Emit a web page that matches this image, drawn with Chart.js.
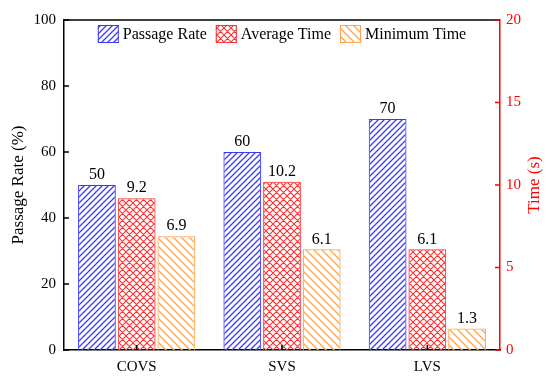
<!DOCTYPE html>
<html>
<head>
<meta charset="utf-8">
<script src="https://cdn.jsdelivr.net/npm/chart.js@4"></script>
<style>
  body { margin: 0; background: #fff; }
  #wrap { width: 550px; height: 378px; position: relative; }
</style>
</head>
<body>
<div id="wrap"><canvas id="grafica"></canvas></div>
<script>
const categorias = ['COVS', 'SVS', 'LVS'];
const tasaPaso = [50, 60, 70];
const tiempoMedio = [9.2, 10.2, 6.1];
const tiempoMinimo = [6.9, 6.1, 1.3];
const ticksIzq = [0, 20, 40, 60, 80, 100];
const ticksDer = [0, 5, 10, 15, 20];

const FUENTE = '"Liberation Serif", "Times New Roman", serif';
const AZUL = '#3a3aff';
const ROJO = '#ff3030';
const NARANJA = '#ffa24a';

// tramas rayadas
function crearTrama(color, tam, tipo, grosor) {
    const c = document.createElement('canvas');
    c.width = tam;
    c.height = tam;
    const ctx = c.getContext('2d');
    ctx.strokeStyle = color;
    ctx.lineWidth = grosor;
    ctx.lineCap = 'square';
    ctx.beginPath();
    for (let k = -1; k <= 1; k++) {
        const d = k * tam;
        if (tipo === 'sube' || tipo === 'cruz') {
            ctx.moveTo(d, tam);
            ctx.lineTo(d + tam, 0);
        }
        if (tipo === 'baja' || tipo === 'cruz') {
            ctx.moveTo(d, 0);
            ctx.lineTo(d + tam, tam);
        }
    }
    ctx.stroke();
    return ctx.createPattern(c, 'repeat');
}

const tramaAzul = crearTrama(AZUL, 6, 'sube', 1.3);
const tramaRoja = crearTrama(ROJO, 7, 'cruz', 1.1);
const tramaNaranja = crearTrama(NARANJA, 8, 'baja', 1.3);

const marcoYTicks = {
    id: 'marcoYTicks',
    afterDraw(chart) {
        const ctx = chart.ctx;
        const a = chart.chartArea;
        ctx.save();
        ctx.lineWidth = 1.5;
        ctx.strokeStyle = '#000';
        ctx.beginPath();
        ctx.moveTo(a.left, a.top);
        ctx.lineTo(a.right, a.top);
        ctx.stroke();

        const largo = 5;
        const sx = chart.scales.x;
        ctx.beginPath();
        sx.ticks.forEach((t, i) => {
            const px = sx.getPixelForTick(i);
            ctx.moveTo(px, a.bottom);
            ctx.lineTo(px, a.bottom - largo);
        });
        const sy = chart.scales.y;
        ticksIzq.forEach(v => {
            const py = sy.getPixelForValue(v);
            ctx.moveTo(a.left, py);
            ctx.lineTo(a.left + largo, py);
        });
        ctx.stroke();

        const sy1 = chart.scales.y1;
        ctx.strokeStyle = 'red';
        ctx.beginPath();
        ticksDer.forEach(v => {
            const py = sy1.getPixelForValue(v);
            ctx.moveTo(a.right, py);
            ctx.lineTo(a.right - largo, py);
        });
        ctx.stroke();

        // titulos de ejes, ambos leen de abajo hacia arriba
        const yMedio = (a.top + a.bottom) / 2;
        ctx.font = '17px ' + FUENTE;
        ctx.textAlign = 'center';
        ctx.textBaseline = 'middle';
        ctx.save();
        ctx.translate(19, yMedio);
        ctx.rotate(-Math.PI / 2);
        ctx.fillStyle = '#000';
        ctx.fillText('Passage Rate (%)', 0, 0);
        ctx.restore();
        ctx.save();
        ctx.translate(535, yMedio);
        ctx.rotate(-Math.PI / 2);
        ctx.fillStyle = 'red';
        ctx.fillText('Time (s)', 0, 0);
        ctx.restore();

        // etiquetas de valores
        ctx.fillStyle = '#000';
        ctx.font = '16px ' + FUENTE;
        ctx.textAlign = 'center';
        ctx.textBaseline = 'bottom';
        chart.data.datasets.forEach((ds, i) => {
            chart.getDatasetMeta(i).data.forEach((bar, j) => {
                ctx.fillText(String(ds.data[j]), bar.x, bar.y - 2);
            });
        });

        // leyenda dentro del area
        ctx.font = '16px ' + FUENTE;
        ctx.textAlign = 'left';
        ctx.textBaseline = 'middle';
        const anchoCaja = 21, altoCaja = 18, hueco = 4, sep = 9;
        const items = chart.data.datasets;
        let total = 0;
        items.forEach((ds, i) => {
            total += anchoCaja + hueco + ctx.measureText(ds.label).width;
            if (i < items.length - 1) total += sep;
        });
        let x = (a.left + a.right) / 2 - total / 2;
        const yc = a.top + 14;
        items.forEach(ds => {
            ctx.fillStyle = ds.backgroundColor;
            ctx.fillRect(x, yc - altoCaja / 2, anchoCaja, altoCaja);
            ctx.strokeStyle = ds.borderColor;
            ctx.lineWidth = 1;
            ctx.strokeRect(x + 0.5, yc - altoCaja / 2 + 0.5, anchoCaja - 1, altoCaja - 1);
            x += anchoCaja + hueco;
            ctx.fillStyle = '#000';
            ctx.fillText(ds.label, x, yc + 1);
            x += ctx.measureText(ds.label).width + sep;
        });
        ctx.restore();
    }
};

new Chart(document.getElementById('grafica'), {
    type: 'bar',
    data: {
        labels: categorias,
        datasets: [
            { label: 'Passage Rate', data: tasaPaso, yAxisID: 'y',
              backgroundColor: tramaAzul, borderColor: AZUL, borderWidth: 1 },
            { label: 'Average Time', data: tiempoMedio, yAxisID: 'y1',
              backgroundColor: tramaRoja, borderColor: ROJO, borderWidth: 1 },
            { label: 'Minimum Time', data: tiempoMinimo, yAxisID: 'y1',
              backgroundColor: tramaNaranja, borderColor: NARANJA, borderWidth: 1 }
        ]
    },
    options: {
        responsive: true,
        maintainAspectRatio: false,
        animation: false,
        categoryPercentage: 0.82,
        barPercentage: 0.95,
        layout: { padding: { top: 20, left: 0, right: 0, bottom: 0 } },
        plugins: {
            legend: { display: false },
            tooltip: { enabled: false }
        },
        scales: {
            x: {
                grid: { display: false, drawTicks: false },
                border: { display: true, color: '#000', width: 1.5 },
                ticks: { color: '#000', font: { family: FUENTE, size: 15 }, padding: 8 },
                afterFit(s) { s.height = 28; }
            },
            y: {
                position: 'left',
                min: 0,
                max: 100,
                afterBuildTicks(s) { s.ticks = ticksIzq.map(v => ({ value: v })); },
                grid: { display: false, drawTicks: false },
                border: { display: true, color: '#000', width: 1.5 },
                ticks: { color: '#000', font: { family: FUENTE, size: 15 }, padding: 8 },
                afterFit(s) { s.width = 64; }
            },
            y1: {
                position: 'right',
                min: 0,
                max: 20,
                afterBuildTicks(s) { s.ticks = ticksDer.map(v => ({ value: v })); },
                grid: { display: false, drawTicks: false },
                border: { display: true, color: 'red', width: 1.5 },
                ticks: { color: 'red', font: { family: FUENTE, size: 15 }, padding: 6 },
                afterFit(s) { s.width = 50; }
            }
        }
    },
    plugins: [marcoYTicks]
});
</script>
</body>
</html>
